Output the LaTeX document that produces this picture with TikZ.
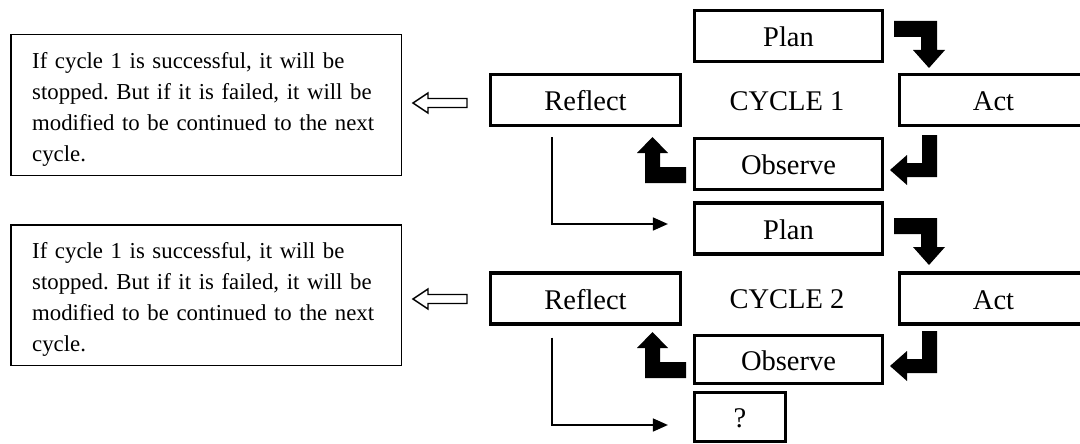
\documentclass[tikz,border=0pt]{standalone}
\usepackage{fontspec}
\setmainfont{Liberation Serif}
\usetikzlibrary{arrows.meta}
\frenchspacing
\begin{document}
\begin{tikzpicture}[x=1pt,y=-1pt,
  lbl/.style={inner sep=0pt, font=\fontsize{28.5}{34}\selectfont, text height=21.5pt, text depth=0pt},
  stage/.style={lbl, draw, line width=3.2pt, minimum width=188pt, minimum height=51pt},
  note/.style={draw, line width=1.5pt, minimum width=390.5pt, minimum height=140.5pt, inner sep=0pt},
  notetext/.style={anchor=north west, inner sep=0pt, text width=370pt, align=left, font=\fontsize{22.8}{31}\selectfont},
  block/.style={fill=black},
  hollow/.style={draw, line width=1.4pt, fill=white},
  link/.style={draw, line width=1.6pt, -{Triangle[length=15pt,width=13pt]}}
]
\fill[white] (0,0) rectangle (1080,444);
\useasboundingbox (0,0) rectangle (1080,444);

% cycle 1
\node[stage] (plan1) at (788.5,36) {Plan};
\node[stage] (act1) at (993.5,100) {Act};
\node[stage] (obs1) at (788.5,164) {Observe};
\node[stage, minimum width=190pt] (ref1) at (585.5,100) {Reflect};
\node[lbl] (cyc1) at (787,100) {CYCLE 1};
\node[note] (note1) at (206,105) {};
\node[notetext] (txt1) at (32,52) {If cycle 1 is successful, it will be\\stopped. But if it is failed, it will be\\modified to be continued to the next\\cycle.};

% cycle 2
\node[stage] (plan2) at (788.5,228.5) {Plan};
\node[stage] (act2) at (993.5,298.5) {Act};
\node[stage, minimum height=48pt] (obs2) at (788.5,359.5) {Observe};
\node[stage, minimum width=190pt] (ref2) at (585.5,298.5) {Reflect};
\node[lbl] (cyc2) at (787,297.5) {CYCLE 2};
\node[stage, minimum width=91pt, minimum height=49pt] (q) at (740,417) {?};
\node[note] (note2) at (206,295) {};
\node[notetext] (txt2) at (32,242) {If cycle 1 is successful, it will be\\stopped. But if it is failed, it will be\\modified to be continued to the next\\cycle.};

% block arrows
\fill[block] (894,21) -- (937,21) -- (937,50) -- (945,50) -- (929,68) -- (913,50) -- (921,50) -- (921,37) -- (894,37) -- cycle;
\fill[block] (894,218) -- (937,218) -- (937,247) -- (945,247) -- (929,265) -- (913,247) -- (921,247) -- (921,234) -- (894,234) -- cycle;
\fill[block] (922,135) -- (937,135) -- (937,177) -- (907,177) -- (907,185) -- (890,170) -- (907,155) -- (907,163) -- (922,163) -- cycle;
\fill[block] (922,331) -- (937,331) -- (937,373) -- (907,373) -- (907,381) -- (890,366) -- (907,351) -- (907,359) -- (922,359) -- cycle;
\fill[block] (686,167) -- (686,183) -- (645,183) -- (645,153) -- (637,153) -- (652.5,137) -- (668,153) -- (660,153) -- (660,167) -- cycle;
\fill[block] (686,362) -- (686,378) -- (645,378) -- (645,348) -- (637,348) -- (652.5,332) -- (668,348) -- (660,348) -- (660,362) -- cycle;

% hollow arrows
\draw[hollow] (413,103) -- (428,93) -- (428,98.5) -- (467,98.5) -- (467,107.5) -- (428,107.5) -- (428,113) -- cycle;
\draw[hollow] (413,299) -- (428,289) -- (428,294.5) -- (467,294.5) -- (467,303.5) -- (428,303.5) -- (428,309) -- cycle;

% links
\draw[link] ([xshift=-33.5pt,yshift=-10pt]ref1.south) |- ([xshift=-25pt,yshift=4.5pt]plan2.west);
\draw[link] ([xshift=-33.5pt,yshift=-12pt]ref2.south) |- ([xshift=-25pt,yshift=-8pt]q.west);
\end{tikzpicture}
\end{document}
